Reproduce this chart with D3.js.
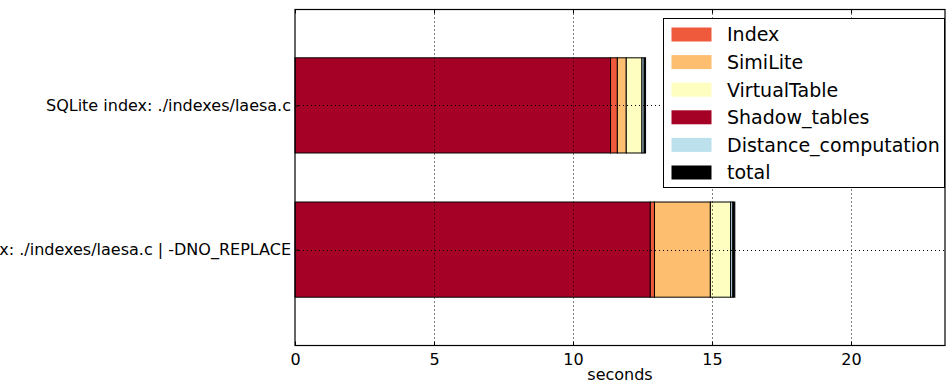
<!DOCTYPE html>
<html>
<head>
<meta charset="utf-8">
<script src="https://cdn.jsdelivr.net/npm/d3@7/dist/d3.min.js"></script>
<style>
  html, body { margin: 0; padding: 0; background: #fff; }
  svg { display: block; font-family: "DejaVu Sans", sans-serif; }
</style>
</head>
<body>
<div id="chart"></div>
<script>
// Stacked timing bars, one row per build, seconds on x.
const categories = ['SQLite index: ./indexes/laesa.c', 'SQLite index: ./indexes/laesa.c | -DNO_REPLACE'];
const seriesNames = ['Shadow_tables', 'Index', 'SimiLite', 'VirtualTable', 'Distance_computation', 'total'];
const shadowTables = [11.35, 12.78];
const indexTime = [0.245, 0.15];
const simiLite = [0.32, 2.01];
const virtualTable = [0.565, 0.73];
const distanceComputation = [0.08, 0.08];
const total = [0.05, 0.07];
const legendOrder = ['Index', 'SimiLite', 'VirtualTable', 'Shadow_tables', 'Distance_computation', 'total'];
const xTicks = [0, 5, 10, 15, 20];
const xMax = 23.38;

const COLORS = {
  Index: '#ef5a3c',
  SimiLite: '#fdbe6f',
  VirtualTable: '#fefec0',
  Shadow_tables: '#a50026',
  Distance_computation: '#bde1ec',
  total: '#000000'
};

const values = {
  Shadow_tables: shadowTables, Index: indexTime, SimiLite: simiLite,
  VirtualTable: virtualTable, Distance_computation: distanceComputation, total: total
};

const W = 946, H = 385;
const m = { left: 295, right: 1, top: 9.5, bottom: 39.5 };

const svg = d3.select('#chart').append('svg').attr('width', W).attr('height', H);

const x = d3.scaleLinear().domain([0, xMax]).range([m.left, W - m.right]);
// category 0 sits at the top, ylim roughly -0.66..1.66 like the original
const y = d3.scaleLinear().domain([1.665, -0.665]).range([H - m.bottom, m.top]);
const barH = y(0.33) - y(-0.33);

const rows = categories.map((c, i) => {
  let acc = 0;
  return seriesNames.map(s => {
    const v = values[s][i];
    const seg = { key: s, x0: acc, x1: acc + v, row: i };
    acc += v;
    return seg;
  });
});

svg.append('g').selectAll('rect')
  .data(rows.flat())
  .enter().append('rect')
  .attr('x', d => x(d.x0))
  .attr('width', d => Math.max(0.5, x(d.x1) - x(d.x0)))
  .attr('y', d => y(d.row) - barH / 2)
  .attr('height', barH)
  .attr('fill', d => COLORS[d.key])
  .attr('stroke', '#000')
  .attr('stroke-width', 1);

// grid, drawn over the bars
const grid = svg.append('g').attr('stroke', '#000').attr('stroke-width', 1).attr('stroke-dasharray', '1,3');
grid.selectAll('.vg').data(xTicks.slice(1)).enter().append('line')
  .attr('x1', d => Math.round(x(d)) + 0.5).attr('x2', d => Math.round(x(d)) + 0.5)
  .attr('y1', m.top).attr('y2', H - m.bottom);
grid.selectAll('.hg').data(categories.map((c, i) => i)).enter().append('line')
  .attr('x1', m.left).attr('x2', W - m.right)
  .attr('y1', d => Math.round(y(d)) + 0.5).attr('y2', d => Math.round(y(d)) + 0.5);

// frame
svg.append('rect')
  .attr('x', m.left).attr('y', m.top)
  .attr('width', W - m.right - m.left).attr('height', H - m.bottom - m.top)
  .attr('fill', 'none').attr('stroke', '#000').attr('stroke-width', 1.2);

// x axis (ticks point inward, top and bottom)
const xAxis = d3.axisBottom(x).tickValues(xTicks).tickSize(-4).tickPadding(8);
const gx = svg.append('g').attr('transform', `translate(0,${H - m.bottom})`).call(xAxis);
gx.select('.domain').remove();
gx.selectAll('text').attr('font-size', 16).attr('font-family', 'DejaVu Sans').attr('fill', '#000');
svg.append('g').attr('transform', `translate(0,${m.top})`)
  .call(d3.axisTop(x).tickValues(xTicks).tickSize(-4).tickFormat(''))
  .select('.domain').remove();

// y axis; the long second label runs off the left edge, as in the original
const yAxis = d3.axisLeft(y).tickValues([0, 1]).tickFormat(i => categories[i]).tickSize(-4).tickPadding(4);
const gy = svg.append('g').attr('transform', `translate(${m.left},0)`).call(yAxis);
gy.select('.domain').remove();
gy.selectAll('text').attr('font-size', 16).attr('font-family', 'DejaVu Sans').attr('fill', '#000');

svg.append('text')
  .attr('x', (m.left + W - m.right) / 2).attr('y', H - 5)
  .attr('text-anchor', 'middle').attr('font-size', 16).text('seconds');

// legend
const lg = svg.append('g').attr('transform', 'translate(663.5,18.5)');
lg.append('rect').attr('width', 281).attr('height', 169).attr('fill', '#fff').attr('stroke', '#000').attr('stroke-width', 1);
const items = lg.selectAll('.item').data(legendOrder).enter().append('g')
  .attr('transform', (d, i) => `translate(8,${9 + i * 27.6})`);
items.append('rect').attr('width', 40).attr('height', 14).attr('fill', d => COLORS[d]);
items.append('text').attr('x', 55.5).attr('y', 7).attr('dy', '0.36em')
  .attr('font-size', 19).text(d => d);
</script>
</body>
</html>
